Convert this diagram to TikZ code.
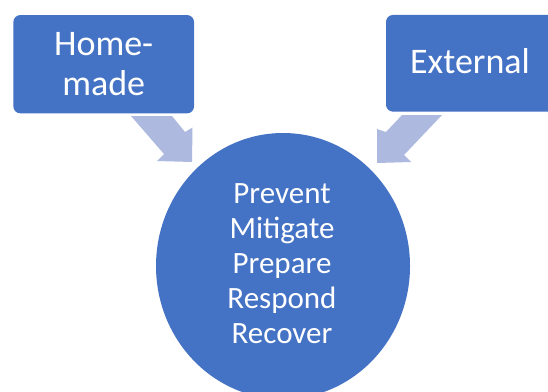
\documentclass[tikz,border=0pt]{standalone}
\usepackage{fontspec}
\setmainfont{Carlito}
\usetikzlibrary{shapes.geometric}
\definecolor{boxblue}{HTML}{4472C4}
\definecolor{arrowblue}{HTML}{ADB9DE}
\tikzset{
  blockbox/.style={fill=boxblue, draw=none, rounded corners=7pt, inner sep=0pt},
  boxtext/.style={text=white, font=\fontsize{36}{40}\selectfont, align=center, anchor=base, inner sep=0pt},
  circtext/.style={text=white, font=\fontsize{31}{35}\selectfont, align=center, anchor=base, inner sep=0pt},
  blockarrow/.style={fill=arrowblue, draw=none}
}
\begin{document}
\begin{tikzpicture}[x=1pt, y=-1pt]
\useasboundingbox (0,0) rectangle (548,391);
\clip (0,0) rectangle (548,391);
% boxes
\node[blockbox, minimum width=180.7pt, minimum height=98.3pt] (home) at (103.7,64.2) {};
\node[blockbox, minimum width=170pt, minimum height=96.7pt] (ext) at (471,63.3) {};
% circle
\node[ellipse, fill=boxblue, draw=none, minimum width=254pt, minimum height=266pt, inner sep=0pt] (core) at (283,266) {};
% arrows
\coordinate (la1) at (131,116);
\coordinate (la2) at (172,116);
\coordinate (la3) at (185,132);
\coordinate (la4) at (192.5,127.5);
\coordinate (la5) at (192,162);
\coordinate (la6) at (157,161);
\coordinate (la7) at (164,154);
\fill[blockarrow] (la1) -- (la2) -- (la3) -- (la4) -- (la5) -- (la6) -- (la7) -- cycle;
\coordinate (ra1) at (442,115);
\coordinate (ra2) at (402,115);
\coordinate (ra3) at (386,132);
\coordinate (ra4) at (377,129);
\coordinate (ra5) at (377,163);
\coordinate (ra6) at (411,162);
\coordinate (ra7) at (404,155);
\fill[blockarrow] (ra1) -- (ra2) -- (ra3) -- (ra4) -- (ra5) -- (ra6) -- (ra7) -- cycle;
% texts (base anchor = baseline of the last line)
\node[boxtext] (hometext) at (103.7,95) {Home-\\made};
\node[boxtext] (exttext) at (470,73.3) {External};
\node[circtext] (coretext) at (282,343.3) {Prevent\\Mitigate\\Prepare\\Respond\\Recover};
\end{tikzpicture}
\end{document}
